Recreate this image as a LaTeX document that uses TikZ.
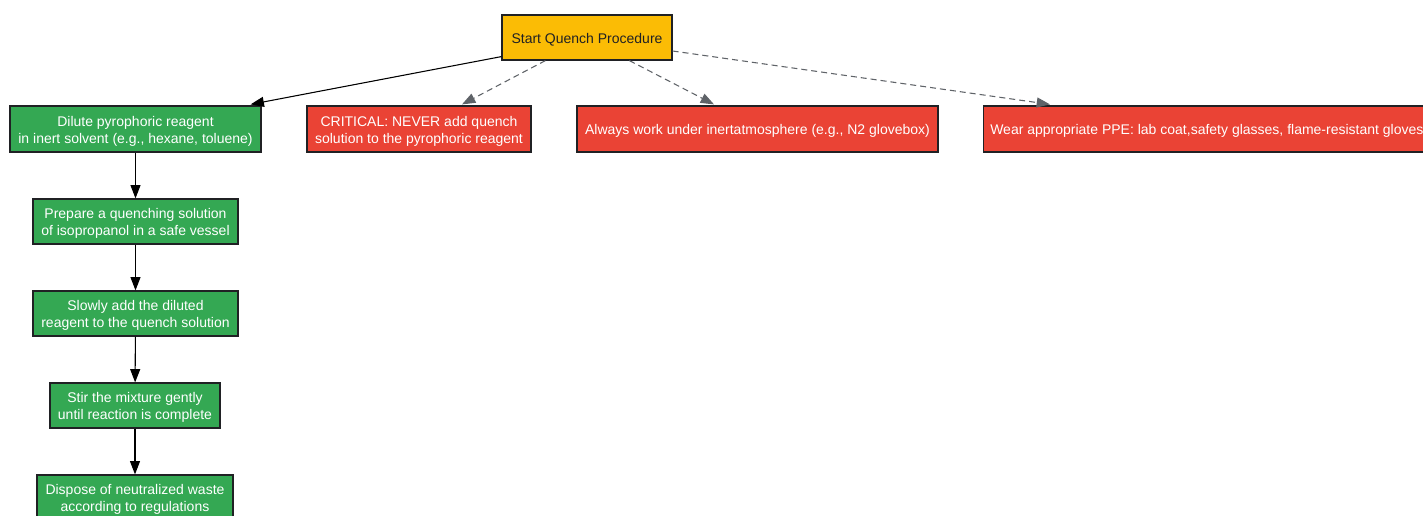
\documentclass[tikz,border=0pt]{standalone}
\usepackage{fontspec}
\setmainfont{Liberation Sans}
\usetikzlibrary{arrows.meta,calc}
\definecolor{gYellow}{HTML}{FBBC05}
\definecolor{gGreen}{HTML}{34A853}
\definecolor{gRed}{HTML}{EA4335}
\definecolor{gGray}{HTML}{5F6368}
\definecolor{gText}{HTML}{202124}
\newcommand{\boxtext}[1]{\raisebox{-1.6pt}[\height][\depth]{\begin{tabular}{@{}c@{}}#1\end{tabular}}}
\begin{document}
\begin{tikzpicture}[x=0.75pt,y=-0.75pt,
  box/.style={draw=gText,line width=0.9pt,inner sep=0pt,
    font=\fontsize{10.5pt}{12.75pt}\selectfont},
  startbox/.style={box,fill=gYellow,text=gText},
  stepbox/.style={box,fill=gGreen,text=white},
  warnbox/.style={box,fill=gRed,text=white},
  flow/.style={line width=0.8pt,-{Triangle[length=10pt,width=7.5pt]}},
  note/.style={gGray,line width=0.8pt,dash pattern=on 4.5pt off 3pt,-{Triangle[length=10pt,width=7.5pt]}}]
\useasboundingbox (0,0) rectangle (1423,516);
\clip (0,0) rectangle (1423,516);
\node[startbox,minimum width=127.5pt,minimum height=33.75pt] (start) at (587,37.5) {\boxtext{Start Quench Procedure}};
\node[stepbox,minimum width=188.25pt,minimum height=34.5pt] (dilute) at (135.5,129) {\boxtext{Dilute pyrophoric reagent\\in inert solvent (e.g., hexane, toluene)}};
\node[warnbox,minimum width=168pt,minimum height=34.5pt] (crit) at (419,129) {\boxtext{CRITICAL: NEVER add quench\\solution to the pyrophoric reagent}};
\node[warnbox,minimum width=270.75pt,minimum height=34.5pt] (inert) at (757.5,129) {\boxtext{Always work under inertatmosphere (e.g., N2 glovebox)}};
\node[warnbox,anchor=west,minimum height=34.5pt,inner xsep=5pt] (ppe) at (983,129) {\boxtext{Wear appropriate PPE: lab coat,safety glasses, flame-resistant gloves}};
\node[stepbox,minimum width=153.75pt,minimum height=33.75pt] (prep) at (135.5,221.5) {\boxtext{Prepare a quenching solution\\of isopropanol in a safe vessel}};
\node[stepbox,minimum width=153.75pt,minimum height=33.75pt] (add) at (135.5,313.5) {\boxtext{Slowly add the diluted\\reagent to the quench solution}};
\node[stepbox,minimum width=127.5pt,minimum height=33.75pt] (stir) at (135,405.5) {\boxtext{Stir the mixture gently\\until reaction is complete}};
\node[stepbox,minimum width=147pt,minimum height=33.75pt] (disp) at (135,497.5) {\boxtext{Dispose of neutralized waste\\according to regulations}};
\draw[flow] ($(start.south west)+(0,-4)$) -- ($(dilute.north east)+(-11,-1)$);
\draw[note] ($(start.south west)+(44,0)$) -- ($(crit.north)+(43,-1)$);
\draw[note] ($(start.south west)+(128,0)$) -- ($(inert.north)+(-43.5,-1)$);
\draw[note] ($(start.east)+(0,13.5)$) -- ($(ppe.north west)+(67,-1)$);
\draw[flow] (dilute) -- (prep);
\draw[flow] (prep) -- (add);
\draw[flow] (add) -- (stir);
\draw[flow] (stir) -- (disp);
\end{tikzpicture}
\end{document}
